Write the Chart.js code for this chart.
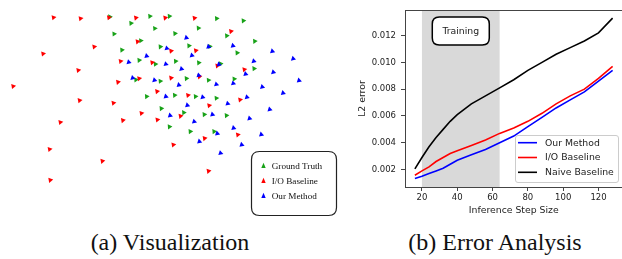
<!DOCTYPE html>
<html><head><meta charset="utf-8">
<script src="https://cdn.jsdelivr.net/npm/chart.js@4.4.1/dist/chart.umd.min.js"></script>
<style>
html,body{margin:0;padding:0;background:#fff;width:622px;height:259px;overflow:hidden;position:relative}
#c1{position:absolute;left:0;top:0}
#c2{position:absolute;left:350px;top:0}
.cap{position:absolute;top:230px;font-family:"Liberation Serif","Times New Roman",serif;font-size:24px;line-height:24px;color:#111;white-space:nowrap;text-align:center;width:240px}
</style></head><body>
<canvas id="c1" width="345" height="222"></canvas>
<canvas id="c2" width="274" height="221"></canvas>
<div class="cap" style="left:50px">(a) Visualization</div>
<div class="cap" style="left:375px">(b) Error Analysis</div>
<script>
// ---------- (a) Visualization: positions (arbitrary plane units) ----------
const gtX = [325,448,508,653,735,390,463,597,338,525,684,420,770,480,568,632,362,716,415,527,598,465,665,768,560,628,707,405,480,438,524,588,652,483,552,615,683,508,572,645];
const gtY = [40,38,38,45,52,60,76,75,93,92,99,114,116,133,130,132,143,152,175,178,183,187,186,201,232,237,233,236,240,288,284,288,293,325,338,344,347,382,397,397];
const ioX = [152,235,322,405,495,585,697,410,277,120,513,589,358,455,655,228,738,350,415,513,600,28,470,565,725,232,336,630,422,542,173,365,471,718,616,520,140,302,628,142];
const ioY = [42,45,42,43,43,44,85,117,133,155,146,145,178,182,192,206,204,243,232,230,226,256,272,284,298,300,308,316,340,349,368,362,360,407,418,438,452,489,520,548];
const ourX = [560,628,703,500,824,438,577,383,497,660,767,888,545,827,742,395,462,598,652,537,704,906,793,497,610,746,857,563,687,816,510,640,754,584,705,655,790,600,730,665];
const ourY = [105,133,130,138,147,162,160,181,187,188,178,170,202,212,218,230,237,222,250,252,247,238,258,288,290,290,277,315,310,328,347,344,356,366,386,403,406,428,438,464];
const scatterLabels = ['Ground Truth','I/O Baseline','Our Method'];

// ---------- (b) Error Analysis ----------
const stepSizes = [16,20,24,28,32,36,40,48,56,64,72,80,88,96,104,112,120,128];
const ourErr   = [0.00134,0.0015,0.0017,0.0019,0.0021,0.0024,0.0027,0.0031,0.0035,0.0040,0.0045,0.0052,0.0059,0.0066,0.0072,0.0078,0.0086,0.0094];
const ioErr    = [0.00158,0.0019,0.0022,0.0026,0.0029,0.0032,0.0034,0.0038,0.0042,0.0047,0.0051,0.0056,0.0062,0.0069,0.0075,0.0080,0.0088,0.0097];
const naiveErr = [0.00205,0.0029,0.0037,0.0044,0.0050,0.0056,0.0061,0.0069,0.0075,0.0081,0.0087,0.0094,0.0100,0.0106,0.0111,0.0116,0.0122,0.0133];
const lineLabels = ['Our Method','I/O Baseline','Naive Baseline'];
const xTicks = [20,40,60,80,100,120];
const yTicks = [0.002,0.004,0.006,0.008,0.010,0.012];
const trainRange = [20,64];
const trainLabel = 'Training';

const GREEN='#18a218', RED='#ff0000', BLUE='#0000ff';

function rr(ctx,x,y,w,h,r){
  ctx.beginPath();
  ctx.moveTo(x+r,y);ctx.lineTo(x+w-r,y);ctx.quadraticCurveTo(x+w,y,x+w,y+r);
  ctx.lineTo(x+w,y+h-r);ctx.quadraticCurveTo(x+w,y+h,x+w-r,y+h);
  ctx.lineTo(x+r,y+h);ctx.quadraticCurveTo(x,y+h,x,y+h-r);
  ctx.lineTo(x,y+r);ctx.quadraticCurveTo(x,y,x+r,y);ctx.closePath();
}
const pts=(xs,ys)=>xs.map((x,i)=>({x,y:ys[i]}));

const leftLegend={id:'leftLegend',afterDraw(chart){
  const ctx=chart.ctx;ctx.save();
  rr(ctx,251.5,151.5,85,64,8);
  ctx.fillStyle='#fff';ctx.fill();ctx.lineWidth=1.2;ctx.strokeStyle='#222';ctx.stroke();
  const cols=[GREEN,RED,BLUE];const rows=[165.7,180.7,195.7];
  ctx.font='9.2px "Liberation Serif"';ctx.textBaseline='middle';
  scatterLabels.forEach((t,i)=>{
    const x=263.5,y=rows[i];
    ctx.fillStyle=cols[i];ctx.beginPath();ctx.moveTo(x,y-3);ctx.lineTo(x+2.2,y+2.2);ctx.lineTo(x-2.2,y+2.2);ctx.closePath();ctx.fill();
    ctx.fillStyle='#111';ctx.fillText(t,271.7,y+0.5);
  });
  ctx.restore();
}};

new Chart(document.getElementById('c1'),{
  type:'scatter',
  data:{datasets:[
    {label:scatterLabels[0],data:pts(gtX,gtY),backgroundColor:GREEN,pointStyle:'triangle',pointRadius:3,pointRotation:86,borderWidth:0,order:3},
    {label:scatterLabels[1],data:pts(ioX,ioY),backgroundColor:RED,pointStyle:'triangle',pointRadius:3,pointRotation:80,borderWidth:0,order:2},
    {label:scatterLabels[2],data:pts(ourX,ourY),backgroundColor:BLUE,pointStyle:'triangle',pointRadius:3,pointRotation:-12,borderWidth:0,order:1}
  ]},
  options:{responsive:false,animation:false,devicePixelRatio:1,
    layout:{padding:0},
    plugins:{legend:{display:false},tooltip:{enabled:false}},
    scales:{x:{display:false,min:0,max:1035},y:{display:false,min:0,max:666,reverse:true}}},
  plugins:[leftLegend]
});

const FONT='"DejaVu Sans"';
const decor={id:'decor',
  beforeDatasetsDraw(chart){
    const {ctx,chartArea:a,scales:{x}}=chart;
    const x0=x.getPixelForValue(trainRange[0]),x1=x.getPixelForValue(trainRange[1]);
    ctx.save();ctx.fillStyle='#d9d9d9';ctx.fillRect(x0,a.top,x1-x0,a.bottom-a.top);ctx.restore();
  },
  afterDatasetsDraw(chart){
    const {ctx,chartArea:a,scales:{x}}=chart;
    ctx.save();
    const cx=x.getPixelForValue((trainRange[0]+trainRange[1])/2), cy=a.top+21;
    rr(ctx,cx-28.5,cy-14,57,28,7);
    ctx.fillStyle='#fff';ctx.fill();ctx.lineWidth=1.5;ctx.strokeStyle='#000';ctx.stroke();
    ctx.fillStyle='#222';ctx.font='9.3px '+FONT;ctx.textAlign='center';ctx.textBaseline='middle';
    ctx.fillText(trainLabel,cx,cy);
    const lw=103,lh=47,lx=a.right-4.5-lw,ly=a.bottom-5-lh;
    rr(ctx,lx+0.5,ly+0.5,lw,lh,2.5);
    ctx.fillStyle='rgba(255,255,255,0.85)';ctx.fill();ctx.lineWidth=1;ctx.strokeStyle='#cccccc';ctx.stroke();
    ctx.textAlign='left';
    const rows=[ly+7.7,ly+22.5,ly+37.3];
    chart.data.datasets.forEach((d,i)=>{
      ctx.strokeStyle=d.borderColor;ctx.lineWidth=1.6;ctx.beginPath();ctx.moveTo(lx+3,rows[i]);ctx.lineTo(lx+22,rows[i]);ctx.stroke();
      ctx.fillStyle='#222';ctx.fillText(d.label,lx+30,rows[i]+0.5);
    });
    ctx.strokeStyle='#444';ctx.lineWidth=1;
    ctx.strokeRect(Math.round(a.left)+0.5,Math.round(a.top)+0.5,Math.round(a.right-a.left),Math.round(a.bottom-a.top));
    ctx.restore();
  }
};

const tickGrid={display:true,drawOnChartArea:false,drawTicks:true,tickLength:4,color:'#444',lineWidth:1};
new Chart(document.getElementById('c2'),{
  type:'line',
  data:{datasets:[
    {label:lineLabels[0],data:pts(stepSizes,ourErr),borderColor:BLUE,borderWidth:1.6,pointRadius:0,tension:0,fill:false},
    {label:lineLabels[1],data:pts(stepSizes,ioErr),borderColor:RED,borderWidth:1.6,pointRadius:0,tension:0,fill:false},
    {label:lineLabels[2],data:pts(stepSizes,naiveErr),borderColor:'#000',borderWidth:1.6,pointRadius:0,tension:0,fill:false}
  ]},
  options:{responsive:false,animation:false,devicePixelRatio:1,
    layout:{padding:{top:8,right:1.5,left:0,bottom:0}},
    plugins:{legend:{display:false},tooltip:{enabled:false}},
    scales:{
      x:{type:'linear',min:10.4,max:133.6,
        afterBuildTicks:s=>{s.ticks=xTicks.map(v=>({value:v}));},
        afterFit:s=>{s.height=34;},
        grid:tickGrid,border:{display:false},
        ticks:{font:{family:FONT,size:8.5},color:'#222',padding:2,maxRotation:0,autoSkip:false},
        title:{display:true,text:'Inference Step Size',font:{family:FONT,size:9.3},color:'#222',padding:{top:0,bottom:5}}},
      y:{type:'linear',min:0.0007,max:0.0139,
        afterBuildTicks:s=>{s.ticks=yTicks.map(v=>({value:v}));},
        afterFit:s=>{s.width=55;},
        grid:tickGrid,border:{display:false},
        ticks:{font:{family:FONT,size:8.5},color:'#222',padding:5,autoSkip:false,callback:v=>Number(v).toFixed(3)},
        title:{display:true,text:'L2 error',font:{family:FONT,size:9.3},color:'#222',padding:{top:7.5,bottom:0}}}
    }},
  plugins:[decor]
});
</script>
</body></html>
